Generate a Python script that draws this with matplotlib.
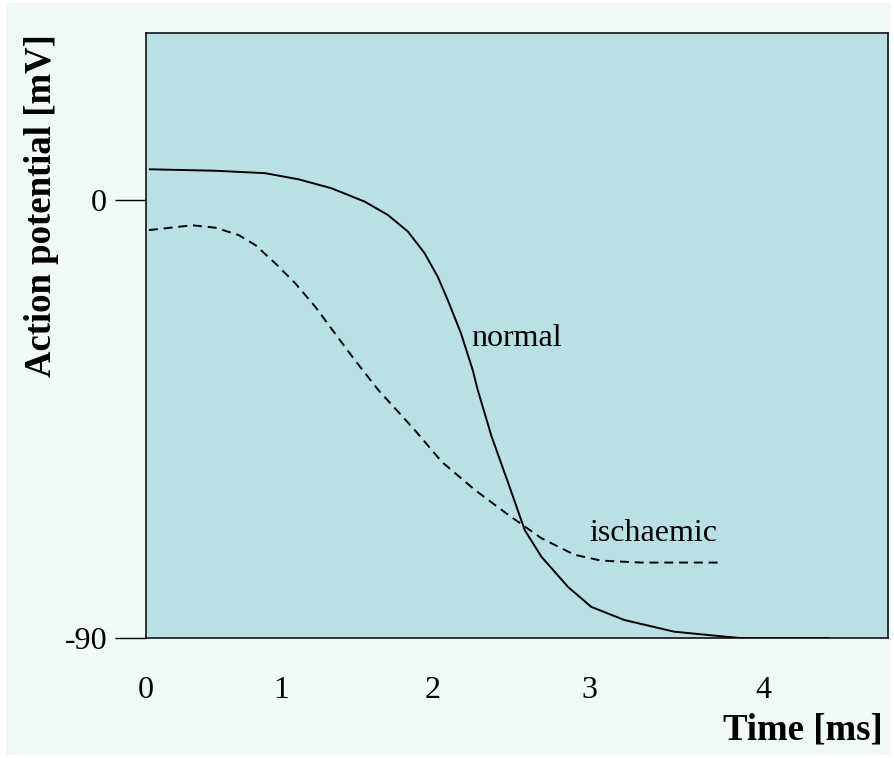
import matplotlib
matplotlib.use("Agg")
import matplotlib.pyplot as plt
from matplotlib.patches import Rectangle

plt.rcParams['font.family'] = ['Liberation Serif', 'DejaVu Serif']

# Data (time in ms-like axis units, potential in mV)
t_normal = [0.0, 0.449, 0.786, 1.011, 1.235, 1.460, 1.617, 1.752, 1.865, 1.954, 2.022,
            2.111, 2.190, 2.224, 2.318, 2.431, 2.542, 2.655, 2.835, 2.992, 3.216, 3.553,
            3.890, 4.003, 4.600]
v_normal = [6.3, 6.0, 5.5, 4.25, 2.4, -0.35, -3.1, -6.5, -10.95, -15.8, -20.6,
            -27.4, -34.9, -39.0, -48.6, -58.2, -67.8, -73.3, -79.5, -83.6, -86.3, -88.7,
            -89.7, -90.0, -90.0]

t_isch = [0.0, 0.292, 0.449, 0.606, 0.719, 0.854, 0.989, 1.124, 1.258, 1.393, 1.550,
          1.799, 1.981, 2.206, 2.431, 2.655, 2.879, 3.059, 3.329, 3.857]
v_isch = [-6.2, -5.2, -5.7, -7.2, -9.25, -13.0, -17.1, -21.9, -27.4, -32.9, -39.0,
          -47.3, -53.8, -59.6, -64.7, -69.5, -72.9, -74.1, -74.5, -74.5]

ytick_vals = [0, -90]
ytick_labels = ["0", "-90"]
xtick_pos = [-0.02, 0.896, 1.92, 2.98, 4.16]
xtick_labels = ["0", "1", "2", "3", "4"]

W, H = 894, 758
fig = plt.figure(figsize=(W / 100, H / 100), dpi=100, facecolor='white')
fig.patches.append(Rectangle((6 / W, 3 / H), (891 - 6) / W, (755 - 3) / H,
                             transform=fig.transFigure, facecolor='#f0f9f8',
                             edgecolor='none', zorder=-10))

ax = fig.add_axes([146 / W, 1 - 638 / H, (888 - 146) / W, (638 - 33) / H])
ax.set_facecolor('#b9e0e3')
ax.set_xlim(0, 5.0)
ax.set_ylim(-90, 34.3)

ax.plot(t_normal, v_normal, color='black', lw=1.4, solid_capstyle='butt',
        solid_joinstyle='round')
ax.plot(t_isch, v_isch, color='black', lw=1.4, linestyle=(0, (4.6, 3.0)))

ax.text(2.18, -28.5, "normal", fontsize=23, ha='left', va='center')
ax.text(2.98, -68.5, "ischaemic", fontsize=23, ha='left', va='center')

for s in ax.spines.values():
    s.set_linewidth(1.1)
    s.set_color('black')

ax.set_yticks(ytick_vals)
ax.set_yticklabels(ytick_labels, fontsize=23)
ax.tick_params(axis='y', direction='out', length=22, width=1.0, pad=6)
ax.set_xticks(xtick_pos)
ax.set_xticklabels(xtick_labels, fontsize=23)
ax.tick_params(axis='x', length=0, pad=27)

fig.text(883 / W, 1 - 730 / H, "Time [ms]", fontsize=26.5, fontweight='bold',
         ha='right', va='center')
fig.text(42 / W, 1 - 206 / H, "Action potential [mV]", fontsize=26.5, fontweight='bold',
         ha='center', va='center', rotation=90)

fig.savefig("out.png", dpi=100, facecolor=fig.get_facecolor())
